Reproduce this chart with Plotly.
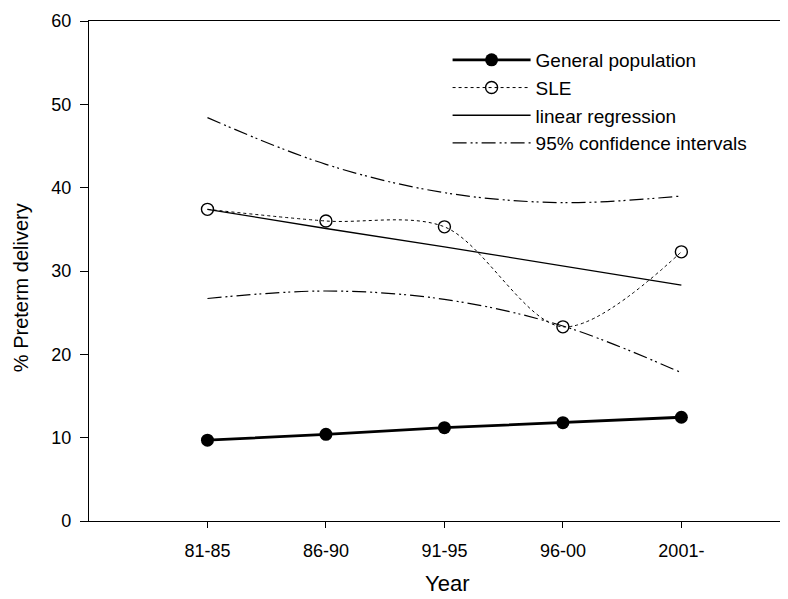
import plotly.graph_objects as go

years = ["81-85", "86-90", "91-95", "96-00", "2001-"]
general_population = [9.7, 10.4, 11.2, 11.8, 12.45]
sle = [37.4, 36.0, 35.3, 23.3, 32.3]
linear_regression = [37.4, 35.1, 32.9, 30.6, 28.3]
ci_upper = [48.4, 42.8, 39.4, 38.2, 39.0]
ci_lower = [26.7, 27.6, 26.6, 23.4, 17.8]

FONT = "Liberation Sans, Arial, sans-serif"
CI_DASH = "14px,4px,2px,3px,2px,4px"

fig = go.Figure()
fig.add_trace(go.Scatter(
    x=years, y=general_population, name="General population",
    mode="lines+markers",
    line=dict(color="black", width=2.8),
    marker=dict(symbol="circle", size=13, color="black"),
))
fig.add_trace(go.Scatter(
    x=years, y=sle, name="SLE",
    mode="lines+markers",
    line=dict(color="black", width=1, dash="dot", shape="spline", smoothing=0.9),
    marker=dict(symbol="circle-open", size=12, color="black", line=dict(width=1.4)),
))
fig.add_trace(go.Scatter(
    x=years, y=linear_regression, name="linear regression",
    mode="lines",
    line=dict(color="black", width=1.3),
))
fig.add_trace(go.Scatter(
    x=years, y=ci_upper, name="95% confidence intervals",
    mode="lines",
    line=dict(color="black", width=1.2, dash=CI_DASH, shape="spline", smoothing=1.0),
))
fig.add_trace(go.Scatter(
    x=years, y=ci_lower, name="95% confidence intervals",
    mode="lines", showlegend=False,
    line=dict(color="black", width=1.2, dash=CI_DASH, shape="spline", smoothing=1.0),
))

fig.update_layout(
    width=780, height=591,
    margin=dict(l=81, r=0, t=13, b=78, autoexpand=False),
    paper_bgcolor="white", plot_bgcolor="white",
    font=dict(family=FONT, color="black", size=18),
    showlegend=True,
    legend=dict(
        x=0.513, y=0.96, xanchor="left", yanchor="top",
        bgcolor="rgba(0,0,0,0)", font=dict(size=19, family=FONT),
        tracegroupgap=0, itemwidth=78,
    ),
    xaxis=dict(
        type="category", categoryorder="array", categoryarray=years,
        range=[-1.0, 4.9], automargin=False,
        showline=True, linecolor="black", linewidth=1.2, mirror=True,
        showgrid=False, zeroline=False,
        ticks="outside", ticklen=6, tickcolor="black", tickwidth=1.2,
        tickfont=dict(size=18, family=FONT), ticklabelstandoff=7,
    ),
    yaxis=dict(
        range=[0, 60], tickvals=[0, 10, 20, 30, 40, 50, 60], automargin=False,
        showline=True, linecolor="black", linewidth=1.2,
        showgrid=False, zeroline=False,
        ticks="outside", ticklen=8, tickcolor="black", tickwidth=1.2,
        tickfont=dict(size=18, family=FONT), ticklabelstandoff=5,
    ),
    annotations=[
        dict(text="Year", xref="paper", yref="paper", x=0.512, y=-0.154,
             xanchor="center", yanchor="bottom", showarrow=False,
             font=dict(size=22, family=FONT)),
        dict(text="% Preterm delivery", xref="paper", yref="paper", x=-0.097, y=0.466,
             xanchor="center", yanchor="middle", showarrow=False, textangle=-90,
             font=dict(size=20, family=FONT)),
    ],
)

fig.write_html("out.html")
